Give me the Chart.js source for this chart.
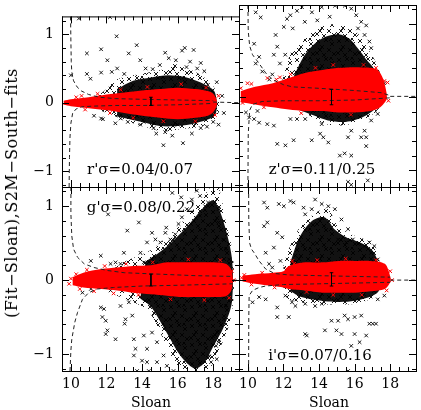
<!DOCTYPE html>
<html>
<head>
<meta charset="UTF-8">
<title>Fit - Sloan residuals, S2M-South fits</title>
<script src="https://cdn.jsdelivr.net/npm/chart.js"></script>
<style>
  body { margin: 0; background: #fff; }
  #wrap { position: relative; width: 421px; height: 410px; font-family: "DejaVu Serif", serif; color: #000; }
  #wrap canvas { position: absolute; left: 0; top: 0; }
  .lbl { position: absolute; white-space: nowrap; transform: translate(-50%, -50%); line-height: 1; }
  .band { font-size: 15px; }
  .xt { font-size: 14px; }
  .yt { font-size: 16px; letter-spacing: 0.5px; transform: translate(-50%, -50%) rotate(-90deg); }
</style>
</head>
<body>
<div id="wrap">
  <canvas id="cr" width="421" height="410"></canvas>
  <canvas id="cz" width="421" height="410"></canvas>
  <canvas id="cg" width="421" height="410"></canvas>
  <canvas id="ci" width="421" height="410"></canvas>
  <div class="lbl yt" style="left:12px; top:193px">(Fit−Sloan),S2M−South−fits</div>
  <div class="lbl xt" style="left:151px; top:402px">Sloan</div>
  <div class="lbl xt" style="left:329px; top:402px">Sloan</div>
</div>
<script>
// axes
const magTicks = [10, 12, 14, 16, 18];
const resTicks = [-1, 0, 1];
const magRange = [9.5, 19.45];
const resRange = [-1.23, 1.26];
const magMinorStep = 0.5;
const resMinorStep = 0.2;
const bandNames = ["r'σ=0.04/0.07", "z'σ=0.11/0.25", "g'σ=0.08/0.22", "i'σ=0.07/0.16"];

// ---- r' (top left)
const rRedMag = [9.6, 10.0, 11.0, 12.0, 13.0, 14.0, 15.0, 16.0, 17.0, 17.7, 18.0, 18.2];
const rRedHi  = [0.03, 0.05, 0.08, 0.12, 0.15, 0.18, 0.2, 0.22, 0.2, 0.17, 0.13, 0.04];
const rRedLo  = [-0.03, -0.05, -0.08, -0.11, -0.15, -0.19, -0.22, -0.24, -0.22, -0.19, -0.14, -0.04];
const rHaloUp = [[11.5,0.1],[12.0,0.2],[12.5,0.33],[13.5,0.4],[14.5,0.45],[15.3,0.5],[15.6,0.6],[16.0,0.55],[17.0,0.45],[17.7,0.33],[18.1,0.2],[18.4,0.05]];
const rHaloDn = [[11.5,-0.1],[12.3,-0.18],[13.3,-0.28],[14.3,-0.36],[15.2,-0.42],[16.3,-0.38],[17.3,-0.35],[18.1,-0.25],[18.4,-0.05]];
const rCoreUp = [[12.6,0.2],[13.5,0.32],[14.5,0.37],[15.5,0.4],[16.5,0.37],[17.5,0.27],[18.1,0.15]];
const rCoreDn = [[12.6,-0.2],[14.0,-0.28],[15.0,-0.34],[16.0,-0.34],[17.0,-0.3],[18.1,-0.18]];
const rBlack = [[10.45,1.23],[10.9,0.72],[11.7,0.78],[12.57,0.97],[13.7,0.84],[13.25,0.72],[10.9,0.42],[11.1,0.35],
  [10.0,0.4],[11.7,0.44],[12.05,0.62],[13.9,0.62],[14.6,0.49],[15.3,0.73],[16.25,0.76],[16.4,0.8],[16.9,0.77],
  [16.7,0.6],[17.5,0.46],[17.7,0.26],[15.9,0.62],[17.3,0.58],[12.2,1.25],[12.3,0.45],[12.6,0.5],[13.0,0.42],
  [14.2,0.5],[15.0,0.55],[15.5,0.65],[16.5,0.52],[17.1,0.5],[18.2,0.3],[18.5,0.1],
  [11.3,-0.19],[11.7,-0.23],[11.8,-0.24],[12.8,-0.23],[13.2,-0.28],[14.1,-0.28],[15.3,-0.43],[15.2,-0.62],
  [16.3,-0.59],[17.3,-0.37],[17.65,-0.35],[18.0,-0.28],[14.65,-0.37],[16.0,-0.32],[13.9,-0.32],[18.6,-0.15],
  [18.3,-0.32],[16.8,-0.45],[15.7,-0.48],[14.8,-0.45],[12.5,-0.3]];
const rRed = [[9.7,0.0],[10.3,0.08],[10.6,0.1],[10.8,-0.1],[11.5,0.13],[12.2,-0.15],[12.8,0.19],[13.5,-0.22],
  [14.3,0.23],[15.2,-0.27],[16.2,0.27],[17.0,-0.27],[17.6,0.22],[18.1,-0.18],[18.3,0.1]];
const rEnvUp = [[9.98,1.26],[10.0,0.9],[10.02,0.6],[10.05,0.45],[10.15,0.32],[10.35,0.23],[10.6,0.17],[11.0,0.12],[11.6,0.08],[12.5,0.06],[14,0.05],[16,0.04],[18,0.03]];
const rEnvDn = [[9.9,-1.23],[9.92,-0.8],[9.95,-0.5],[10.0,-0.3],[10.1,-0.15],[10.3,-0.09],[10.6,-0.06],[11.2,-0.05],[12.5,-0.04],[14,-0.04],[16,-0.03],[18,-0.01]];
const rTail = [[18,0.01],[19.45,0.0]];
const rErr = [14.5, 0.02, 0.06];

// ---- z' (top right)
const zRedMag = [9.6, 10.4, 11.4, 12.3, 13.2, 14.2, 15.1, 16.0, 16.9, 17.3, 17.6, 17.8];
const zRedHi  = [0.08, 0.14, 0.19, 0.26, 0.33, 0.37, 0.4, 0.41, 0.4, 0.37, 0.25, 0.05];
const zRedLo  = [-0.07, -0.1, -0.14, -0.17, -0.19, -0.19, -0.21, -0.21, -0.19, -0.16, -0.1, -0.03];
const zHaloUp = [[11.9,0.2],[12.2,0.45],[12.5,0.65],[13.2,0.8],[13.8,0.92],[14.3,0.98],[15.1,1.0],[15.6,0.98],[16.0,0.92],[16.4,0.8],[16.7,0.68],[17.1,0.52],[17.4,0.35],[17.5,0.1]];
const zHaloDn = [[11.9,-0.1],[12.5,-0.15],[13.2,-0.2],[13.5,-0.26],[13.9,-0.32],[14.4,-0.37],[15.0,-0.39],[15.6,-0.38],[16.4,-0.32],[17.1,-0.22],[17.5,-0.1]];
const zCoreUp = [[12.6,0.3],[13.2,0.58],[13.8,0.74],[14.4,0.83],[15.1,0.86],[15.7,0.8],[16.2,0.66],[16.7,0.5],[17.1,0.38],[17.35,0.1]];
const zCoreDn = [[12.6,-0.15],[13.8,-0.26],[14.5,-0.32],[15.5,-0.34],[16.5,-0.27],[17.35,-0.1]];
const zBlack = [[10.35,0.73],[10.44,1.16],[10.72,1.09],[10.44,0.46],[10.63,0.55],[10.81,0.35],[11.46,0.58],[11.65,0.69],
  [11.56,0.85],[12.02,0.96],[12.2,1.07],[12.39,1.12],[12.52,0.94],[12.76,1.18],[13.04,1.23],[15.81,1.21],[16.09,1.12],
  [16.37,1.03],[16.65,0.98],[16.19,0.94],[16.56,0.85],[16.83,0.76],[16.93,0.67],[17.48,0.22],[17.67,0.19],[12.1,0.58],
  [11.8,0.46],[11.37,0.31],[11.2,0.24],[13.6,1.16],[14.15,1.23],[14.9,1.25],[13.2,1.03],[15.45,1.25],[14.6,1.1],[13.9,1.05],
  [9.89,-0.21],[10.07,-0.28],[10.35,-0.3],[10.63,-0.35],[10.54,-0.19],[11.09,-0.37],[11.46,-0.39],[12.39,-0.3],
  [12.76,-0.3],[13.22,-0.3],[11.65,-0.64],[12.11,-0.66],[12.57,-0.59],[13.59,-0.59],[14.06,-0.5],[14.24,-0.55],
  [14.52,-0.62],[15.17,-0.8],[15.44,-0.77],[15.81,-0.8],[16.65,-0.67],[16.37,-0.55],[16.65,-0.55],[15.63,-0.55],
  [15.81,-0.46],[14.15,-0.37],[15.63,-1.16],[16.74,-1.14],[15.81,-1.2],[16.56,-0.46],[16.93,-0.32],[17.3,-0.23]];
const zRed = [[9.6,0.12],[9.7,-0.08],[9.98,0.19],[10.2,0.18],[10.9,-0.14],[11.1,0.26],[11.6,0.24],[11.8,0.27],
  [12.4,0.31],[13.0,-0.22],[13.8,0.4],[14.8,0.44],[15.8,-0.24],[16.5,0.44],[17.2,0.4],[17.5,0.22],[17.67,0.22],[17.85,0.2],[17.9,-0.05]];
const zEnvUp = [[10.0,1.26],[10.02,0.9],[10.1,0.7],[10.26,0.58],[10.63,0.46],[11.0,0.33],[11.37,0.24],[12.0,0.17],[12.5,0.14],[14,0.12],[16,0.09],[17.5,0.06],[18,0.02]];
const zEnvDn = [[10.0,-1.23],[10.02,-0.5],[10.1,-0.18],[10.26,-0.1],[10.8,-0.06],[12,-0.05],[14,-0.05],[16,-0.04],[18,-0.01]];
const zTail = [[18,0.01],[19.45,0.01]];
const zErr = [14.7, 0.0, 0.105];

// ---- g' (bottom left)
const gRedMag = [10.1, 10.7, 11.7, 12.6, 13.5, 14.5, 15.4, 16.3, 17.2, 18.0, 18.7, 19.0, 19.1];
const gRedHi  = [0.04, 0.1, 0.15, 0.17, 0.19, 0.2, 0.24, 0.24, 0.24, 0.24, 0.22, 0.15, 0.03];
const gRedLo  = [-0.07, -0.1, -0.12, -0.14, -0.17, -0.19, -0.21, -0.23, -0.23, -0.23, -0.22, -0.15, -0.03];
const gHaloUp = [[12.5,0.2],[13.5,0.3],[14.3,0.38],[15.0,0.5],[15.5,0.6],[16.0,0.72],[16.5,0.85],[17.0,1.0],[17.5,1.15],[17.9,1.26],[18.3,1.26],[18.7,0.8],[19.0,0.5],[19.15,0.2]];
const gHaloDn = [[12.5,-0.2],[13.5,-0.3],[14.3,-0.4],[14.8,-0.6],[15.3,-0.85],[15.8,-1.1],[16.2,-1.26],[17.6,-1.26],[18.2,-1.0],[18.7,-0.75],[19.0,-0.5],[19.15,-0.2]];
const gCoreUp = [[14.2,0.25],[15.0,0.38],[15.6,0.5],[16.2,0.64],[16.8,0.8],[17.4,0.97],[18.0,1.08],[18.5,0.85],[19.05,0.3]];
const gCoreDn = [[13.9,-0.25],[14.5,-0.36],[15.0,-0.55],[15.5,-0.76],[16.0,-0.97],[16.5,-1.12],[17.0,-1.2],[17.5,-1.12],[18.0,-0.9],[18.6,-0.63],[19.05,-0.3]];
const gBlack = [[13.82,0.78],[13.17,0.67],[14.56,0.64],[14.75,0.55],[15.36,0.71],[15.31,0.64],[12.98,0.37],[11.68,0.33],
  [11.12,0.26],[12.23,0.22],[12.51,0.24],[12.79,0.22],[13.91,0.37],[14.1,0.24],[14.28,0.51],[15.03,0.51],[15.59,0.55],
  [12.09,0.89],[16.24,0.85],[16.52,0.96],[16.05,0.76],[15.87,0.62],[16.8,1.09],[17.26,1.14],[17.54,1.0],[17.26,0.87],
  [17.08,1.21],[15.7,1.18],[16.2,1.12],[17.71,1.05],[17.99,0.92],[18.3,0.96],[18.3,0.78],[18.55,0.55],[18.7,0.42],[18.9,0.28],
  [11.68,-0.37],[11.77,-0.5],[11.96,-0.55],[12.05,-0.68],[11.96,-0.73],[12.51,-0.8],[11.86,-0.39],[13.07,-0.53],
  [13.02,-0.59],[13.45,-0.48],[13.54,-0.8],[13.63,-0.93],[13.54,-1.02],[14.0,-1.09],[14.28,-1.11],[13.72,-1.23],
  [14.38,-1.23],[14.84,-1.11],[12.79,-0.35],[13.26,-0.3],[14.28,-0.93],[14.1,-0.75],[14.56,-0.71],[14.84,-0.84],
  [15.21,-1.02],[15.4,-1.16],[15.77,-1.23],[10.65,-0.17],[11.12,-0.12],[12.23,-0.14],[17.99,-0.76],[18.16,-0.89],
  [18.3,-0.84],[17.77,-1.03],[17.88,-1.11],[18.2,-1.07],[18.3,-0.69],[18.6,-0.53],[18.7,-0.35]];
const gRed = [[9.9,-0.05],[10.0,0.02],[10.3,0.08],[10.5,-0.12],[10.9,0.14],[11.3,-0.15],[11.9,0.19],[12.4,-0.18],
  [13.1,0.22],[13.8,-0.2],[14.6,0.24],[15.6,-0.26],[16.6,0.28],[17.5,-0.27],[18.4,0.27],[18.9,-0.24],[19.05,0.12],[19.15,0.0]];
const gEnvUp = [[10.0,1.26],[10.0,0.9],[10.05,0.6],[10.15,0.42],[10.37,0.31],[10.75,0.22],[11.3,0.17],[12.05,0.13],[13,0.1],[15,0.08],[17,0.06],[19.1,0.05]];
const gEnvDn = [[9.95,-1.23],[10.0,-0.95],[10.05,-0.8],[10.22,-0.57],[10.37,-0.44],[10.65,-0.26],[11.0,-0.17],[11.5,-0.12],[12.4,-0.1],[14,-0.08],[16,-0.07],[19.1,-0.05]];
const gTail = [[19.1,0.0],[19.45,0.0]];
const gErr = [14.5, 0.0, 0.08];

// ---- i' (bottom right)
const iRedMag = [9.7, 10.4, 11.4, 12.0, 12.3, 13.2, 14.2, 15.1, 16.0, 16.9, 17.7, 18.0];
const iRedHi  = [0.06, 0.08, 0.1, 0.12, 0.19, 0.24, 0.24, 0.26, 0.26, 0.26, 0.22, 0.05];
const iRedLo  = [-0.02, -0.05, -0.08, -0.1, -0.12, -0.14, -0.17, -0.17, -0.17, -0.15, -0.12, -0.03];
const iHaloUp = [[12.0,0.2],[12.3,0.42],[12.85,0.69],[13.2,0.78],[13.8,0.91],[14.5,0.96],[15.07,0.73],[16.0,0.6],[16.93,0.51],[17.3,0.33],[17.5,0.1]];
const iHaloDn = [[12.0,-0.15],[12.3,-0.26],[13.5,-0.32],[14.5,-0.33],[16.0,-0.32],[17.3,-0.21],[17.5,-0.1]];
const iCoreUp = [[12.4,0.25],[12.9,0.58],[13.6,0.8],[14.3,0.85],[14.9,0.68],[15.6,0.57],[16.4,0.5],[17.0,0.4],[17.35,0.2]];
const iCoreDn = [[12.4,-0.15],[13.0,-0.23],[14.5,-0.29],[16.0,-0.28],[17.35,-0.15]];
const iBlack = [[10.91,1.05],[11.09,0.98],[11.74,1.03],[12.02,1.0],[12.39,1.07],[12.57,1.05],[13.13,0.98],[13.78,1.09],
  [14.52,1.0],[14.89,0.96],[15.07,0.55],[15.54,0.51],[16.19,0.49],[16.83,0.51],[17.11,0.46],[10.91,0.73],[11.09,0.78],
  [11.65,0.64],[11.93,0.58],[11.46,0.44],[11.0,0.37],[11.19,0.22],[11.37,0.17],[12.67,0.33],[11.83,0.26],[16.56,0.46],
  [15.9,0.55],[13.22,0.89],[13.59,0.96],[14.15,1.03],[15.26,0.82],[15.63,0.69],[16.93,0.37],[17.3,0.28],
  [10.26,-0.3],[10.63,-0.23],[11.0,-0.26],[11.65,-0.37],[11.65,-0.5],[12.3,-0.5],[12.67,-0.35],[13.22,-0.32],
  [13.78,-0.35],[14.15,-0.32],[14.7,-0.55],[15.07,-0.55],[15.44,-0.48],[15.63,-0.53],[16.0,-0.5],[16.37,-0.48],
  [16.83,-0.59],[17.02,-0.59],[17.2,-0.59],[13.22,-0.73],[13.31,-0.75],[14.33,-0.68],[14.98,-0.68],[15.26,-0.73],
  [16.0,-0.73],[16.28,-0.84],[15.81,-0.89],[16.65,-0.75],[15.63,-1.23],[17.3,-0.26],[17.67,-0.21],[12.11,-0.21],[12.48,-0.3]];
const iRed = [[9.65,0.03],[9.8,0.07],[10.2,-0.06],[10.8,0.1],[11.5,-0.1],[12.2,0.15],[12.5,0.26],[12.6,0.22],[13.3,-0.16],
  [13.9,0.27],[14.8,-0.2],[15.5,0.29],[16.4,-0.2],[17.2,0.27],[17.8,-0.14],[18.0,0.12],[18.1,0.0]];
const iEnvUp = [[10.04,1.26],[10.05,0.8],[10.1,0.5],[10.2,0.42],[10.35,0.37],[10.63,0.26],[11.0,0.15],[11.5,0.09],[12.3,0.07],[14,0.06],[16,0.05],[18,0.04]];
const iEnvDn = [[10.04,-1.23],[10.05,-0.5],[10.07,-0.21],[10.26,-0.14],[10.63,-0.1],[11.0,-0.08],[12,-0.06],[14,-0.05],[16,-0.04],[18,-0.03]];
const iTail = [[18,0.0],[19.45,0.0]];
const iErr = [14.7, 0.01, 0.09];

const panels = [
  { id: 'cr', name: bandNames[0], red: [rRedMag, rRedHi, rRedLo], halo: [rHaloUp, rHaloDn], core: [rCoreUp, rCoreDn],
    black: rBlack, redDots: rRed, envUp: rEnvUp, envDn: rEnvDn, tail: rTail, err: rErr,
    pad: { left: 0, top: 3, right: 182, bottom: 223 }, showX: false, showY: true, at: [140, 169] },
  { id: 'cz', name: bandNames[1], red: [zRedMag, zRedHi, zRedLo], halo: [zHaloUp, zHaloDn], core: [zCoreUp, zCoreDn],
    black: zBlack, redDots: zRed, envUp: zEnvUp, envDn: zEnvDn, tail: zTail, err: zErr,
    pad: { left: 239, top: 3, right: 3, bottom: 223 }, showX: false, showY: false, at: [322, 169] },
  { id: 'cg', name: bandNames[2], red: [gRedMag, gRedHi, gRedLo], halo: [gHaloUp, gHaloDn], core: [gCoreUp, gCoreDn],
    black: gBlack, redDots: gRed, envUp: gEnvUp, envDn: gEnvDn, tail: gTail, err: gErr,
    pad: { left: 0, top: 187, right: 182, bottom: 9 }, showX: true, showY: true, at: [141, 207] },
  { id: 'ci', name: bandNames[3], red: [iRedMag, iRedHi, iRedLo], halo: [iHaloUp, iHaloDn], core: [iCoreUp, iCoreDn],
    black: iBlack, redDots: iRed, envUp: iEnvUp, envDn: iEnvDn, tail: iTail, err: iErr,
    pad: { left: 239, top: 187, right: 3, bottom: 9 }, showX: true, showY: false, at: [320, 355] }
];

const pts = arr => arr.map(([x, y]) => ({ x, y }));
const outline = (up, dn) => pts(up.concat(dn.slice().reverse()));

// speckled fill made of small x marks, so the cloud edges look like overplotted crosses
function crossTexture(w, h, spots, color) {
  const c = document.createElement('canvas');
  c.width = w; c.height = h;
  const g = c.getContext('2d');
  g.strokeStyle = color;
  g.lineWidth = 0.9;
  g.beginPath();
  spots.forEach(([sx, sy]) => {
    g.moveTo(sx - 2, sy - 2); g.lineTo(sx + 2, sy + 2);
    g.moveTo(sx + 2, sy - 2); g.lineTo(sx - 2, sy + 2);
  });
  g.stroke();
  return g.createPattern(c, 'repeat');
}
const haloFill = crossTexture(21, 19,
  [[3, 3], [11, 2], [17, 6], [7, 9], [14, 12], [2, 15], [9, 17], [19, 16], [5, 12], [16, 1]], '#000');

// frame and inward ticks on all four sides, PGPLOT style
const panelFrame = {
  id: 'panelFrame',
  afterDraw(chart) {
    const { ctx, chartArea: a, scales: { x, y } } = chart;
    ctx.save();
    ctx.strokeStyle = '#000';
    ctx.lineWidth = 1;
    ctx.strokeRect(a.left + 0.5, a.top + 0.5, a.right - a.left, a.bottom - a.top);
    ctx.beginPath();
    for (let v = magRange[0]; v <= magRange[1] + 1e-6; v += magMinorStep) {
      const major = magTicks.some(t => Math.abs(t - v) < 1e-6);
      const len = major ? 7 : 4;
      const px = Math.round(x.getPixelForValue(v)) + 0.5;
      ctx.moveTo(px, a.bottom); ctx.lineTo(px, a.bottom - len);
      ctx.moveTo(px, a.top); ctx.lineTo(px, a.top + len);
    }
    for (let v = -1.2; v <= 1.2 + 1e-6; v += resMinorStep) {
      const major = resTicks.some(t => Math.abs(t - v) < 1e-6);
      const len = major ? 7 : 4;
      const py = Math.round(y.getPixelForValue(v)) + 0.5;
      ctx.moveTo(a.left, py); ctx.lineTo(a.left + len, py);
      ctx.moveTo(a.right, py); ctx.lineTo(a.right - len, py);
    }
    ctx.stroke();
    ctx.restore();
  }
};

const tickFont = { family: 'DejaVu Serif', size: 14 };

function makePanel(p) {
  const [rm, rh, rl] = p.red;
  const redBand = rm.map((x, i) => ({ x, y: rh[i] }))
    .concat(rm.map((x, i) => ({ x, y: rl[i] })).reverse());
  const [ex, ec, eh] = p.err;
  const cap = 0.1;
  const errBar = [
    { x: ex - cap, y: ec + eh }, { x: ex + cap, y: ec + eh }, { x: ex, y: null },
    { x: ex, y: ec + eh }, { x: ex, y: ec - eh }, { x: ex, y: null },
    { x: ex - cap, y: ec - eh }, { x: ex + cap, y: ec - eh }
  ];
  const dashed = (data) => ({
    type: 'line', data: pts(data), borderColor: '#222', borderWidth: 1, borderDash: [4, 3],
    pointRadius: 0, fill: false, tension: 0, order: 0
  });
  const datasets = [
    { type: 'line', data: errBar, borderColor: '#000', borderWidth: 1, pointRadius: 0, fill: false, spanGaps: false, order: 0 },
    dashed(p.envUp), dashed(p.envDn), dashed(p.tail),
    { type: 'scatter', data: pts(p.redDots), pointStyle: 'crossRot', pointRadius: 2.5,
      borderColor: '#ff0000', borderWidth: 1, order: 1 },
    { type: 'line', data: redBand, fill: 'shape', backgroundColor: '#ff0000', borderWidth: 0,
      pointRadius: 0, tension: 0.3, order: 2 },
    { type: 'scatter', data: pts(p.black), pointStyle: 'crossRot', pointRadius: 2.5,
      borderColor: '#000', borderWidth: 0.9, order: 3 },
    { type: 'line', data: outline(...p.core), fill: 'shape', backgroundColor: 'rgba(0,0,0,0.93)', borderWidth: 0,
      pointRadius: 0, tension: 0.3, order: 4 },
    { type: 'line', data: outline(...p.halo), fill: 'shape', backgroundColor: haloFill, borderWidth: 0,
      pointRadius: 0, tension: 0.3, order: 5 }
  ];

  new Chart(document.getElementById(p.id), {
    type: 'scatter',
    data: { datasets },
    options: {
      responsive: false,
      animation: false,
      events: [],
      layout: { padding: p.pad },
      plugins: { legend: { display: false }, tooltip: { enabled: false } },
      scales: {
        x: {
          type: 'linear', min: magRange[0], max: magRange[1], display: p.showX,
          grid: { display: false, drawTicks: false }, border: { display: false },
          afterBuildTicks: s => { s.ticks = magTicks.map(v => ({ value: v })); },
          afterFit: s => { s.height = p.showX ? 30 : 0; },
          ticks: { font: tickFont, color: '#000', padding: 5, maxRotation: 0, autoSkip: false }
        },
        y: {
          type: 'linear', min: resRange[0], max: resRange[1], display: p.showY,
          grid: { display: false, drawTicks: false }, border: { display: false },
          afterBuildTicks: s => { s.ticks = resTicks.map(v => ({ value: v })); },
          afterFit: s => { s.width = p.showY ? 62 : 0; },
          ticks: { font: tickFont, color: '#000', padding: 8, autoSkip: false,
                   callback: v => (v < 0 ? '−' + Math.abs(v) : String(v)) }
        }
      }
    },
    plugins: [panelFrame]
  });

  const lbl = document.createElement('div');
  lbl.className = 'lbl band';
  lbl.style.left = p.at[0] + 'px';
  lbl.style.top = p.at[1] + 'px';
  lbl.textContent = p.name;
  document.getElementById('wrap').appendChild(lbl);
}

panels.forEach(makePanel);
</script>
</body>
</html>
